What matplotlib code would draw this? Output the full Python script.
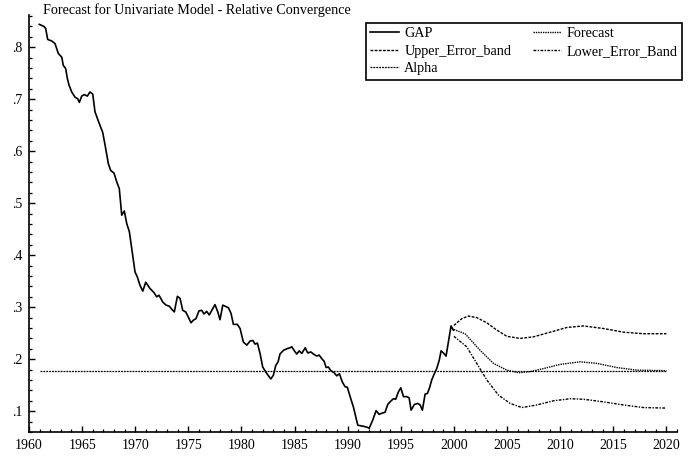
import matplotlib
matplotlib.use('Agg')
import matplotlib.pyplot as plt
from matplotlib.ticker import FuncFormatter, MultipleLocator

plt.rcParams['font.family'] = ['Liberation Serif', 'DejaVu Serif']

gap_year = [1960.97, 1961.41, 1961.57, 1961.76, 1962.14, 1962.45, 1962.76, 1963.08, 1963.23,
            1963.45, 1963.61, 1963.77, 1964.02, 1964.33, 1964.58, 1964.74, 1964.96, 1965.21,
            1965.49, 1965.74, 1966.0, 1966.21, 1966.53, 1966.94, 1967.16, 1967.47, 1967.69,
            1968.0, 1968.26, 1968.5, 1968.73, 1968.97, 1969.2, 1969.45, 1969.67, 1969.98,
            1970.2, 1970.45, 1970.71, 1970.99, 1971.39, 1971.77, 1972.02, 1972.24, 1972.59,
            1972.9, 1973.21, 1973.44, 1973.68, 1973.97, 1974.22, 1974.47, 1974.75, 1975.0,
            1975.25, 1975.47, 1975.72, 1976.0, 1976.26, 1976.47, 1976.73, 1976.97, 1977.26,
            1977.51, 1977.77, 1977.98, 1978.24, 1978.55, 1978.77, 1979.02, 1979.24, 1979.61,
            1979.87, 1980.18, 1980.5, 1980.81, 1981.07, 1981.28, 1981.5, 1981.75, 1982.0,
            1982.4, 1982.76, 1983.0, 1983.23, 1983.45, 1983.63, 1983.95, 1984.26, 1984.58,
            1984.73, 1984.95, 1985.2, 1985.45, 1985.68, 1986.0, 1986.24, 1986.53, 1986.77,
            1987.09, 1987.31, 1987.56, 1987.78, 1987.97, 1988.18, 1988.41, 1988.72, 1988.97,
            1989.22, 1989.5, 1989.76, 1989.97, 1990.23, 1990.54, 1990.95, 1991.48, 1991.86,
            1992.02, 1992.36, 1992.67, 1992.96, 1993.2, 1993.52, 1993.77, 1993.99, 1994.3,
            1994.52, 1994.77, 1995.0, 1995.25, 1995.56, 1995.78, 1995.97, 1996.28, 1996.6,
            1996.82, 1997.03, 1997.29, 1997.5, 1997.69, 1997.91, 1998.13, 1998.38, 1998.63,
            1998.79, 1999.01, 1999.26, 1999.48, 1999.73, 1999.95]
gap_val = [0.844, 0.840, 0.836, 0.815, 0.812, 0.807, 0.788, 0.781, 0.765,
           0.759, 0.740, 0.727, 0.714, 0.704, 0.701, 0.694, 0.706, 0.709,
           0.706, 0.714, 0.710, 0.676, 0.658, 0.636, 0.612, 0.576, 0.563,
           0.558, 0.541, 0.528, 0.477, 0.485, 0.461, 0.445, 0.413, 0.368,
           0.358, 0.342, 0.331, 0.348, 0.336, 0.328, 0.320, 0.323, 0.310,
           0.304, 0.302, 0.296, 0.291, 0.321, 0.317, 0.294, 0.291, 0.281,
           0.270, 0.275, 0.278, 0.293, 0.294, 0.287, 0.292, 0.285, 0.296,
           0.305, 0.291, 0.276, 0.304, 0.301, 0.299, 0.288, 0.267, 0.267,
           0.259, 0.233, 0.227, 0.235, 0.236, 0.229, 0.231, 0.211, 0.185,
           0.172, 0.162, 0.169, 0.188, 0.195, 0.210, 0.217, 0.220, 0.222,
           0.224, 0.217, 0.210, 0.216, 0.211, 0.222, 0.212, 0.214, 0.210,
           0.206, 0.208, 0.201, 0.196, 0.184, 0.185, 0.178, 0.174, 0.168,
           0.172, 0.156, 0.147, 0.146, 0.128, 0.108, 0.073, 0.071, 0.069,
           0.067, 0.083, 0.101, 0.094, 0.096, 0.098, 0.113, 0.118, 0.124,
           0.123, 0.137, 0.145, 0.128, 0.128, 0.126, 0.102, 0.113, 0.115,
           0.112, 0.102, 0.133, 0.134, 0.144, 0.160, 0.171, 0.182, 0.199,
           0.216, 0.212, 0.206, 0.233, 0.264, 0.256]

# forecast and error bands
fc_year = [2000.0, 2001.05, 2002.47, 2003.72, 2004.98, 2006.07, 2007.17, 2008.43, 2010.0,
           2011.88, 2013.45, 2015.33, 2017.2, 2020.0]
fc_val = [0.257, 0.249, 0.217, 0.192, 0.179, 0.174, 0.176, 0.182, 0.190,
          0.195, 0.192, 0.184, 0.179, 0.178]

up_year = [2000.0, 2000.74, 2001.37, 2002.15, 2003.1, 2004.04, 2004.98, 2006.23, 2007.49,
           2009.06, 2010.63, 2012.2, 2014.08, 2015.97, 2017.85, 2020.0]
up_val = [0.265, 0.278, 0.283, 0.280, 0.270, 0.256, 0.244, 0.240, 0.243,
          0.252, 0.261, 0.264, 0.259, 0.252, 0.249, 0.249]

lo_year = [2000.0, 2001.2, 2002.15, 2003.1, 2004.19, 2005.29, 2006.39, 2007.8, 2009.37,
           2010.94, 2012.2, 2014.08, 2015.97, 2017.85, 2020.0]
lo_val = [0.244, 0.224, 0.192, 0.160, 0.131, 0.115, 0.107, 0.112, 0.120,
          0.124, 0.123, 0.118, 0.112, 0.107, 0.106]

alpha_year = [1961.0, 2020.0]
alpha_val = [0.178, 0.178]

fig = plt.figure(figsize=(6.9, 4.59), dpi=100)
ax = fig.add_axes([29/690, 27/459, 648/690, 417/459])

l_gap, = ax.plot(gap_year, gap_val, color='black', lw=1.2, label='GAP')
l_fc, = ax.plot(fc_year, fc_val, color='black', lw=1.0, ls=(0, (1, 0.7)), label='Forecast')
l_up, = ax.plot(up_year, up_val, color='black', lw=1.0, ls=(0, (2, 1)), label='Upper_Error_band')
l_lo, = ax.plot(lo_year, lo_val, color='black', lw=1.0, ls=(0, (2, 1, 1, 1)), label='Lower_Error_Band')
l_al, = ax.plot(alpha_year, alpha_val, color='black', lw=0.9, ls=(0, (1.5, 0.8)), label='Alpha')

ax.set_xlim(1960, 2021)
ax.set_ylim(0.06, 0.862)
ax.spines['top'].set_visible(False)
ax.spines['right'].set_visible(False)
for s in ['left', 'bottom']:
    ax.spines[s].set_linewidth(1.2)

ax.xaxis.set_major_locator(MultipleLocator(5))
ax.xaxis.set_minor_locator(MultipleLocator(1))
ax.yaxis.set_major_locator(MultipleLocator(0.1))
ax.yaxis.set_minor_locator(MultipleLocator(0.02))
ax.yaxis.set_major_formatter(FuncFormatter(lambda v, p: ('%.1f' % v).lstrip('0')))
ax.tick_params(which='major', direction='in', length=4.5, width=1.0, labelsize=10, pad=5)
ax.tick_params(which='minor', direction='in', length=2.2, width=0.9)
ax.set_xticks([1960, 1965, 1970, 1975, 1980, 1985, 1990, 1995, 2000, 2005, 2010, 2015, 2020])

leg = ax.legend([l_gap, l_up, l_al, l_fc, l_lo],
                ['GAP', 'Upper_Error_band', 'Alpha', 'Forecast', 'Lower_Error_Band'],
                ncol=2, loc='upper left', bbox_to_anchor=(366/690, 1 - 23/459),
                bbox_transform=fig.transFigure, borderaxespad=0, fontsize=10.2,
                handlelength=2.0, handletextpad=0.4, columnspacing=1.5,
                labelspacing=0.32, borderpad=0.3, fancybox=False, framealpha=1)
leg.get_frame().set_edgecolor('black')
leg.get_frame().set_linewidth(1.2)

fig.text(43/690, 1 - 10/459, 'Forecast for Univariate Model - Relative Convergence',
         fontsize=10.2, ha='left', va='center')

fig.savefig('out.png', dpi=100)
